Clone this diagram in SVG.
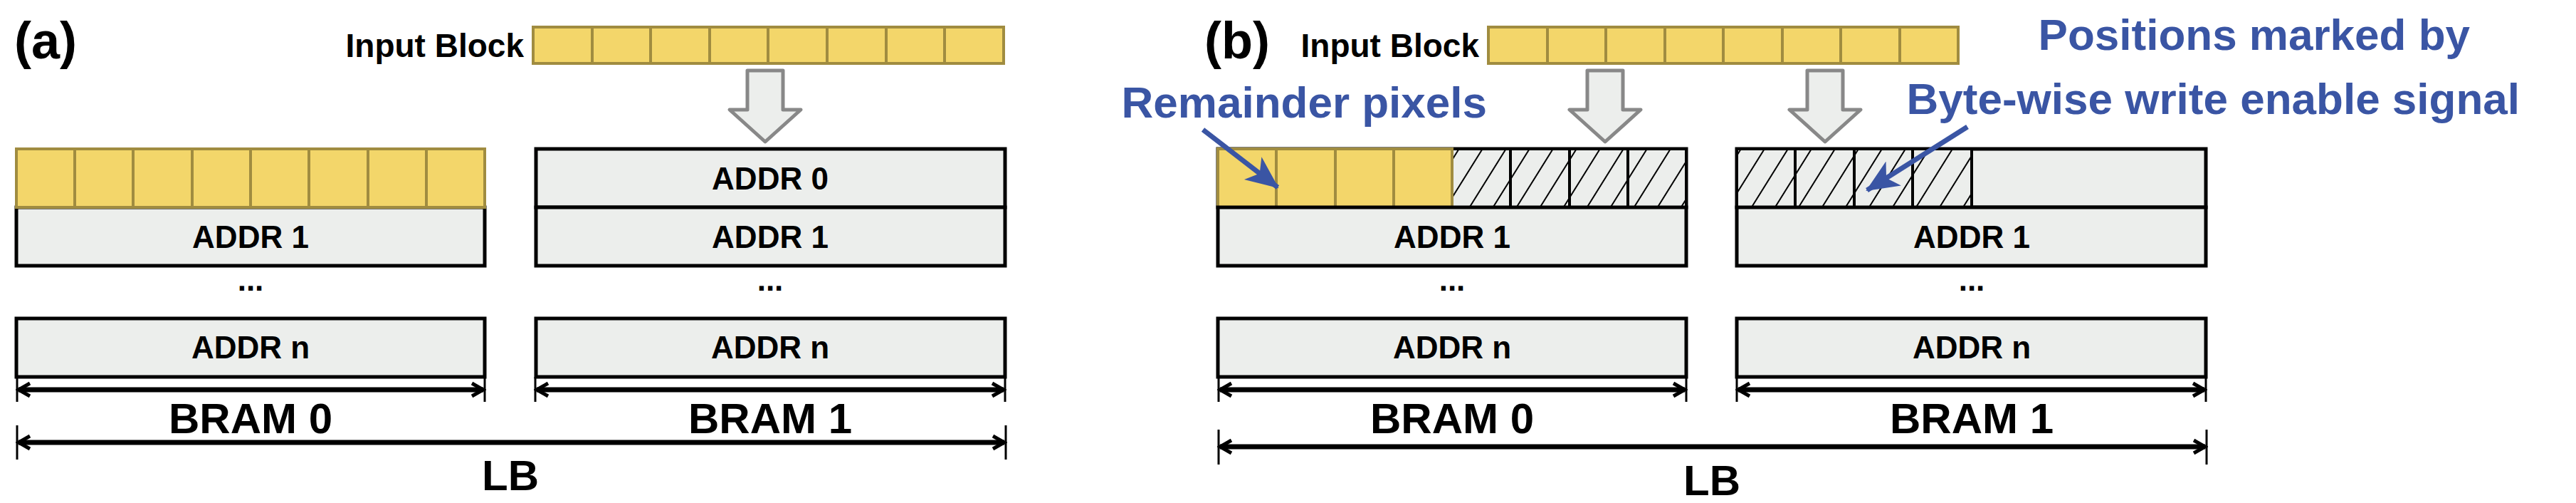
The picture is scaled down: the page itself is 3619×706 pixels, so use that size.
<svg xmlns="http://www.w3.org/2000/svg" width="3619" height="706" viewBox="0 0 3619 706">
<style>
text{font-family:"Liberation Sans",Arial,sans-serif;font-weight:bold;fill:#000}
.row{fill:#eceeec;stroke:#000;stroke-width:5}
.cell{fill:#f3d66a;stroke:#a08c40;stroke-width:4}
.hat{fill:url(#hatch);stroke:#000;stroke-width:4}
.addr{font-size:44px;text-anchor:middle}
.dim{stroke:#000;stroke-width:7;fill:none}
.tick{stroke:#000;stroke-width:3}
.blk{fill:#eceeec;stroke:#888;stroke-width:5;stroke-linejoin:round}
.blue{fill:#3a55a4;font-size:62px}
.bl{stroke:#3a55a4;stroke-width:7;fill:none}
</style>
<defs>
<pattern id="hatch" patternUnits="userSpaceOnUse" width="28" height="28" patternTransform="rotate(32)">
<rect width="28" height="28" fill="#eceeec"/><line x1="0" y1="0" x2="0" y2="28" stroke="#000" stroke-width="4"/>
</pattern>
<marker id="ah" markerWidth="24" markerHeight="24" refX="20" refY="12" orient="auto-start-reverse" markerUnits="userSpaceOnUse"><path d="M4,3 L20,12 L4,21" fill="none" stroke="#000" stroke-width="5"/></marker>
<marker id="bh" markerWidth="50" markerHeight="50" refX="44" refY="25" orient="auto" markerUnits="userSpaceOnUse"><path d="M0,5 L46,25 L0,45 L12,25 Z" fill="#3a55a4"/></marker>
</defs>

<g id="panel-a">
<text x="20" y="82" font-size="72">(a)</text>
<g id="a-input">
<text x="736" y="80" font-size="46" text-anchor="end">Input Block</text>
<rect class="cell" x="749" y="38" width="83" height="51"/><rect class="cell" x="832" y="38" width="82" height="51"/><rect class="cell" x="914" y="38" width="83" height="51"/><rect class="cell" x="997" y="38" width="82" height="51"/><rect class="cell" x="1079" y="38" width="83" height="51"/><rect class="cell" x="1162" y="38" width="83" height="51"/><rect class="cell" x="1245" y="38" width="82" height="51"/><rect class="cell" x="1327" y="38" width="83" height="51"/>
</g>
<path id="a-arrow" class="blk" d="M1050,99 H1100 V154 H1125 L1075,199 L1025,154 H1050 Z"/>
<g id="a-bram0">
<rect class="row" x="23" y="291" width="658" height="82"/>
<rect class="cell" x="23" y="209" width="82" height="82"/><rect class="cell" x="105" y="209" width="82" height="82"/><rect class="cell" x="187" y="209" width="83" height="82"/><rect class="cell" x="270" y="209" width="82" height="82"/><rect class="cell" x="352" y="209" width="82" height="82"/><rect class="cell" x="434" y="209" width="83" height="82"/><rect class="cell" x="517" y="209" width="82" height="82"/><rect class="cell" x="599" y="209" width="82" height="82"/>
<text class="addr" x="352" y="348">ADDR 1</text>
<text class="addr" x="352" y="408">...</text>
<rect class="row" x="23" y="447" width="658" height="82"/>
<text class="addr" x="352" y="503">ADDR n</text>
</g>
<g id="a-bram1">
<rect class="row" x="753" y="209" width="659" height="82"/>
<text class="addr" x="1082" y="266">ADDR 0</text>
<rect class="row" x="753" y="291" width="659" height="82"/>
<text class="addr" x="1082" y="348">ADDR 1</text>
<text class="addr" x="1082" y="408">...</text>
<rect class="row" x="753" y="447" width="659" height="82"/>
<text class="addr" x="1082" y="503">ADDR n</text>
</g>
<g id="a-dims">
<line class="tick" x1="24" y1="529" x2="24" y2="564"/><line class="tick" x1="681" y1="529" x2="681" y2="564"/>
<line class="tick" x1="752" y1="529" x2="752" y2="564"/><line class="tick" x1="1412" y1="529" x2="1412" y2="564"/>
<line class="dim" x1="26" y1="547" x2="679" y2="547" marker-start="url(#ah)" marker-end="url(#ah)"/>
<line class="dim" x1="754" y1="547" x2="1410" y2="547" marker-start="url(#ah)" marker-end="url(#ah)"/>
<text x="352" y="608" font-size="60" text-anchor="middle">BRAM 0</text>
<text x="1082" y="608" font-size="60" text-anchor="middle">BRAM 1</text>
<line class="tick" x1="24" y1="597" x2="24" y2="645"/><line class="tick" x1="1413" y1="597" x2="1413" y2="645"/>
<line class="dim" x1="26" y1="621" x2="1411" y2="621" marker-start="url(#ah)" marker-end="url(#ah)"/>
<text x="717" y="688" font-size="60" text-anchor="middle">LB</text>
</g>
</g>

<g id="panel-b">
<text x="1692" y="82" font-size="72">(b)</text>
<g id="b-input">
<text x="2078" y="80" font-size="46" text-anchor="end">Input Block</text>
<rect class="cell" x="2091" y="38" width="83" height="51"/><rect class="cell" x="2174" y="38" width="82" height="51"/><rect class="cell" x="2256" y="38" width="83" height="51"/><rect class="cell" x="2339" y="38" width="82" height="51"/><rect class="cell" x="2421" y="38" width="83" height="51"/><rect class="cell" x="2504" y="38" width="82" height="51"/><rect class="cell" x="2586" y="38" width="83" height="51"/><rect class="cell" x="2669" y="38" width="82" height="51"/>
</g>
<path id="b-arrow1" class="blk" d="M2230,99 H2280 V154 H2305 L2255,199 L2205,154 H2230 Z"/>
<path id="b-arrow2" class="blk" d="M2539,99 H2589 V154 H2614 L2564,199 L2514,154 H2539 Z"/>
<g id="b-bram0">
<rect class="row" x="1711" y="209" width="658" height="82"/>
<rect class="hat" x="2040" y="209" width="82" height="82"/><rect class="hat" x="2122" y="209" width="83" height="82"/><rect class="hat" x="2205" y="209" width="82" height="82"/><rect class="hat" x="2287" y="209" width="82" height="82"/>
<rect class="cell" x="1711" y="209" width="82" height="82"/><rect class="cell" x="1793" y="209" width="83" height="82"/><rect class="cell" x="1876" y="209" width="82" height="82"/><rect class="cell" x="1958" y="209" width="82" height="82"/>
<rect class="row" x="1711" y="291" width="658" height="82"/>
<text class="addr" x="2040" y="348">ADDR 1</text>
<text class="addr" x="2040" y="408">...</text>
<rect class="row" x="1711" y="447" width="658" height="82"/>
<text class="addr" x="2040" y="503">ADDR n</text>
</g>
<g id="b-bram1">
<rect class="row" x="2440" y="209" width="659" height="82"/>
<rect class="hat" x="2440" y="209" width="82" height="82"/><rect class="hat" x="2522" y="209" width="83" height="82"/><rect class="hat" x="2605" y="209" width="82" height="82"/><rect class="hat" x="2687" y="209" width="83" height="82"/>
<rect class="row" x="2440" y="291" width="659" height="82"/>
<text class="addr" x="2770" y="348">ADDR 1</text>
<text class="addr" x="2770" y="408">...</text>
<rect class="row" x="2440" y="447" width="659" height="82"/>
<text class="addr" x="2770" y="503">ADDR n</text>
</g>
<g id="b-dims">
<line class="tick" x1="1712" y1="529" x2="1712" y2="564"/><line class="tick" x1="2369" y1="529" x2="2369" y2="564"/>
<line class="tick" x1="2440" y1="529" x2="2440" y2="564"/><line class="tick" x1="3099" y1="529" x2="3099" y2="564"/>
<line class="dim" x1="1714" y1="547" x2="2367" y2="547" marker-start="url(#ah)" marker-end="url(#ah)"/>
<line class="dim" x1="2442" y1="547" x2="3097" y2="547" marker-start="url(#ah)" marker-end="url(#ah)"/>
<text x="2040" y="608" font-size="60" text-anchor="middle">BRAM 0</text>
<text x="2770" y="608" font-size="60" text-anchor="middle">BRAM 1</text>
<line class="tick" x1="1712" y1="603" x2="1712" y2="652"/><line class="tick" x1="3100" y1="603" x2="3100" y2="652"/>
<line class="dim" x1="1714" y1="627" x2="3098" y2="627" marker-start="url(#ah)" marker-end="url(#ah)"/>
<text x="2405" y="695" font-size="60" text-anchor="middle">LB</text>
</g>
<g id="annotations">
<text class="blue" x="2089" y="165" text-anchor="end">Remainder pixels</text>
<text class="blue" x="3470" y="70" text-anchor="end">Positions marked by</text>
<text class="blue" x="3540" y="160" text-anchor="end">Byte-wise write enable signal</text>
<line class="bl" x1="1690" y1="182" x2="1795" y2="263" marker-end="url(#bh)"/>
<line class="bl" x1="2764" y1="178" x2="2623" y2="267" marker-end="url(#bh)"/>
</g>
</g>
</svg>
